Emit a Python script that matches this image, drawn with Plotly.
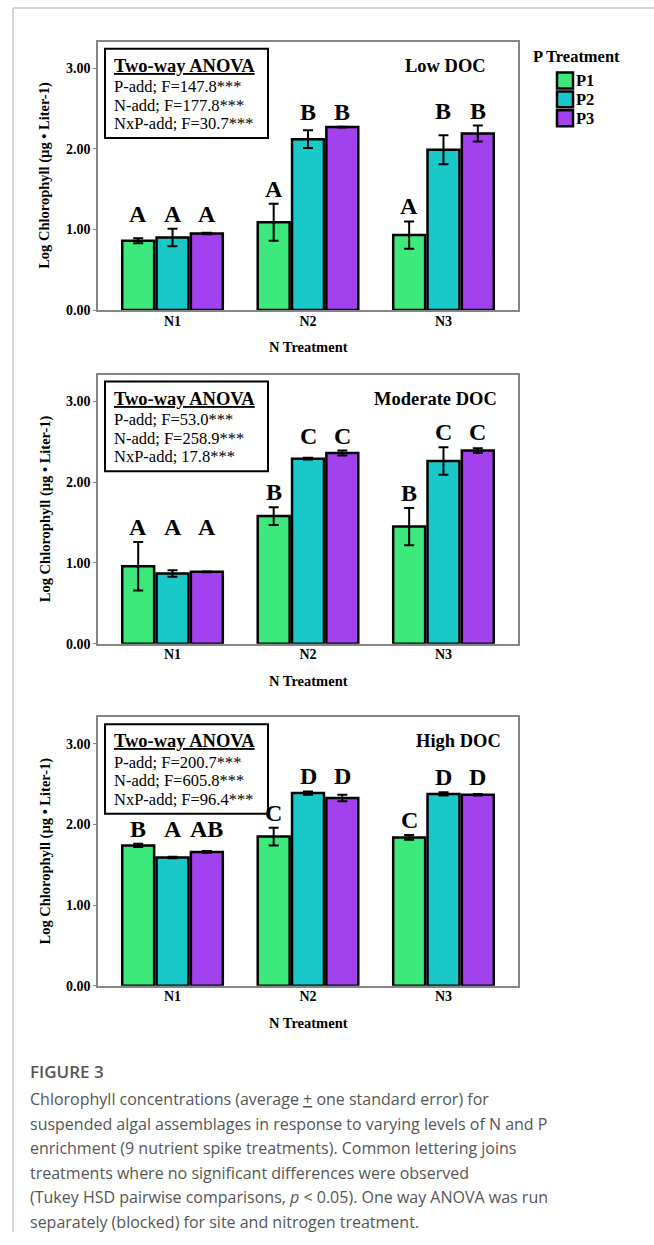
import plotly.graph_objects as go

# ---------------- data ----------------
categories = ["N1", "N2", "N3"]
p_levels = ["P1", "P2", "P3"]
panel_names = ["Low DOC", "Moderate DOC", "High DOC"]

low_P1 = [0.86, 1.09, 0.93]
low_P1_se = [0.03, 0.23, 0.17]
low_P2 = [0.90, 2.12, 1.99]
low_P2_se = [0.11, 0.11, 0.18]
low_P3 = [0.95, 2.27, 2.19]
low_P3_se = [0.01, 0.005, 0.10]

mod_P1 = [0.96, 1.58, 1.45]
mod_P1_se = [0.30, 0.11, 0.23]
mod_P2 = [0.87, 2.29, 2.26]
mod_P2_se = [0.04, 0.01, 0.17]
mod_P3 = [0.89, 2.36, 2.39]
mod_P3_se = [0.005, 0.03, 0.03]

high_P1 = [1.74, 1.85, 1.84]
high_P1_se = [0.02, 0.11, 0.03]
high_P2 = [1.59, 2.39, 2.38]
high_P2_se = [0.01, 0.02, 0.02]
high_P3 = [1.66, 2.33, 2.37]
high_P3_se = [0.01, 0.04, 0.01]

low_letters = [["A", "A", "A"], ["A", "B", "B"], ["A", "B", "B"]]
mod_letters = [["A", "A", "A"], ["B", "C", "C"], ["B", "C", "C"]]
high_letters = [["B", "A", "AB"], ["C", "D", "D"], ["C", "D", "D"]]

low_anova = ["P-add; F=147.8***", "N-add; F=177.8***", "NxP-add; F=30.7***"]
mod_anova = ["P-add; F=53.0***", "N-add; F=258.9***", "NxP-add; 17.8***"]
high_anova = ["P-add; F=200.7***", "N-add; F=605.8***", "NxP-add; F=96.4***"]

y_ticks = [0, 1, 2, 3]
y_title = "Log Chlorophyll (µg • Liter-1)"
x_title = "N Treatment"
legend_title = "P Treatment"
fig_label = "FIGURE 3"
caption_lines = [
    "Chlorophyll concentrations (average <u>+</u> one standard error) for",
    "suspended algal assemblages in response to varying levels of N and P",
    "enrichment (9 nutrient spike treatments). Common lettering joins",
    "treatments where no significant differences were observed",
    "(Tukey HSD pairwise comparisons, <i>p</i> < 0.05). One way ANOVA was run",
    "separately (blocked) for site and nitrogen treatment.",
]

panels = [
    dict(vals=[low_P1, low_P2, low_P3], ses=[low_P1_se, low_P2_se, low_P3_se],
         letters=low_letters, anova=low_anova),
    dict(vals=[mod_P1, mod_P2, mod_P3], ses=[mod_P1_se, mod_P2_se, mod_P3_se],
         letters=mod_letters, anova=mod_anova),
    dict(vals=[high_P1, high_P2, high_P3], ses=[high_P1_se, high_P2_se, high_P3_se],
         letters=high_letters, anova=high_anova),
]

# ---------------- styles ----------------
W, H = 654, 1245
SERIF = "Liberation Serif, Times New Roman, serif"
SANS = "Open Sans, Noto Sans, sans-serif"
colors = ["#3DE97B", "#19C8C8", "#A142EE"]
AXIS_GRAY = "#858585"
BARGAP = 0.24
BARGROUPGAP = 0.07

# pixel layout of the three plot areas (top, bottom)
plot_left, plot_right = 98, 518
panel_px = [(42, 312), (377, 648), (722, 992)]
name_right_shift = [-30, -19, -15]
plot_h = 270.0

fig = go.Figure()

x_dom = [plot_left / W, plot_right / W]
xs = list(range(len(categories)))
slot = (1 - BARGAP) / len(p_levels)

annotations = []
shapes = []

for pi, pan in enumerate(panels):
    sfx = "" if pi == 0 else str(pi + 1)
    xa, ya = "x" + sfx, "y" + sfx
    top, bot = panel_px[pi]
    y_dom = [1 - bot / H, 1 - top / H]

    for j, lvl in enumerate(p_levels):
        fig.add_trace(go.Bar(
            x=xs, y=pan["vals"][j], name=lvl, xaxis=xa, yaxis=ya,
            marker=dict(color=colors[j], line=dict(color="black", width=2.5)),
            error_y=dict(type="data", array=pan["ses"][j], color="black",
                         thickness=2, width=5),
            showlegend=False,
        ))

    ax_common = dict(showline=True, linecolor=AXIS_GRAY, linewidth=1.5, mirror=True,
                     showgrid=False, zeroline=False)
    fig.layout["xaxis" + sfx] = dict(
        domain=x_dom, anchor=ya, range=[-0.55, 2.55], tickvals=xs, ticktext=categories,
        ticks="", ticklabelstandoff=-3,
        tickfont=dict(family=SERIF, size=14, color="black", weight="bold"),
        **ax_common)
    fig.layout["yaxis" + sfx] = dict(
        domain=y_dom, anchor=xa, range=[0, 3.33], tickvals=y_ticks, tickformat=".2f",
        ticks="outside", ticklen=3, tickcolor=AXIS_GRAY,
        tickfont=dict(family=SERIF, size=14, color="black", weight="bold"),
        **ax_common)

    xd, yd = xa + " domain", ya + " domain"

    # letters above bars
    for g in range(len(categories)):
        tops = [pan["vals"][j][g] + pan["ses"][j][g] for j in range(len(p_levels))]
        labs = pan["letters"][g]
        comp = [{j} for j in range(len(labs))]
        for _ in range(2):
            for a in range(len(labs)):
                for b in range(len(labs)):
                    if set(labs[a]) & set(labs[b]):
                        comp[a] |= comp[b]
        for j, lab in enumerate(labs):
            yv = max(tops[k] for k in comp[j])
            annotations.append(dict(
                x=xs[g] + (j - 1) * slot, y=yv, xref=xa, yref=ya,
                text="<b>%s</b>" % lab, showarrow=False, yanchor="bottom", yshift=0,
                font=dict(family=SERIF, size=24, color="black")))

    # ANOVA box
    shapes.append(dict(type="rect", xref=xd, yref=yd,
                       x0=7 / 420, x1=170 / 420, y0=1 - 97 / plot_h, y1=1 - 7 / plot_h,
                       line=dict(color="black", width=2), fillcolor="rgba(0,0,0,0)"))
    annotations.append(dict(x=0, y=1, xref=xd, yref=yd, xshift=14, yshift=-24,
                            xanchor="left", yanchor="middle", showarrow=False,
                            text="<b><u>Two-way ANOVA</u></b>",
                            font=dict(family=SERIF, size=18.5, color="black")))
    for k, line in enumerate(pan["anova"]):
        annotations.append(dict(x=0, y=1, xref=xd, yref=yd, xshift=14,
                                yshift=-(45 + 18.5 * k),
                                xanchor="left", yanchor="middle", showarrow=False,
                                text=line, font=dict(family=SERIF, size=16.5, color="black")))
    # panel name
    annotations.append(dict(x=1, y=1, xref=xd, yref=yd, xshift=name_right_shift[pi],
                            yshift=-24, xanchor="right", yanchor="middle", showarrow=False,
                            text="<b>%s</b>" % panel_names[pi],
                            font=dict(family=SERIF, size=18.5, color="black")))
    # x title
    annotations.append(dict(x=0.5, y=0, xref=xd, yref=yd, yshift=-37,
                            xanchor="center", yanchor="middle", showarrow=False,
                            text="<b>%s</b>" % x_title,
                            font=dict(family=SERIF, size=14.5, color="black")))
    # y title
    annotations.append(dict(x=45 / W, y=0.5, xref="paper", yref=yd, textangle=-90,
                            xanchor="center", yanchor="middle", showarrow=False,
                            text="<b>%s</b>" % y_title,
                            font=dict(family=SERIF, size=14.5, color="black")))

# legend (manual)
annotations.append(dict(x=531 / W, y=1 - 57 / H, xref="paper", yref="paper",
                        xanchor="left", yanchor="middle", showarrow=False,
                        text="<b>%s</b>" % legend_title,
                        font=dict(family=SERIF, size=16.5, color="black")))
for j, lvl in enumerate(p_levels):
    cy = 81 + 19 * j
    shapes.append(dict(type="rect", xref="paper", yref="paper",
                       x0=557 / W, x1=573 / W, y0=1 - (cy + 8) / H, y1=1 - (cy - 8) / H,
                       fillcolor=colors[j], line=dict(color="black", width=2.5)))
    annotations.append(dict(x=574 / W, y=1 - cy / H, xref="paper", yref="paper",
                            xanchor="left", yanchor="middle", showarrow=False,
                            text="<b>%s</b>" % lvl,
                            font=dict(family=SERIF, size=16.5, color="black")))

# page frame
shapes.append(dict(type="line", xref="paper", yref="paper", x0=13 / W, x1=1,
                   y0=1 - 8 / H, y1=1 - 8 / H, line=dict(color="#d6d6d6", width=2)))
shapes.append(dict(type="line", xref="paper", yref="paper", x0=13 / W, x1=13 / W,
                   y0=1 - 8 / H, y1=1 - 1240 / H, line=dict(color="#d6d6d6", width=2)))

# caption
annotations.append(dict(x=28 / W, y=1 - 1078 / H, xref="paper", yref="paper",
                        xanchor="left", yanchor="middle", showarrow=False,
                        text=fig_label,
                        font=dict(family=SANS, size=17, color="#555555", weight=600)))
for k, line in enumerate(caption_lines):
    annotations.append(dict(x=28 / W, y=1 - (1106 + 24.8 * k) / H, xref="paper",
                            yref="paper", xanchor="left", yanchor="middle",
                            showarrow=False, text=line,
                            font=dict(family=SANS, size=16, color="#555555")))

fig.update_layout(
    width=W, height=H, margin=dict(l=0, r=0, t=0, b=0),
    paper_bgcolor="white", plot_bgcolor="white",
    barmode="group", bargap=BARGAP, bargroupgap=BARGROUPGAP,
    showlegend=False, annotations=annotations, shapes=shapes,
)

fig.write_html("out.html", config={"displayModeBar": False},
               post_script="document.body.style.margin='0';document.body.style.overflow='hidden';")
